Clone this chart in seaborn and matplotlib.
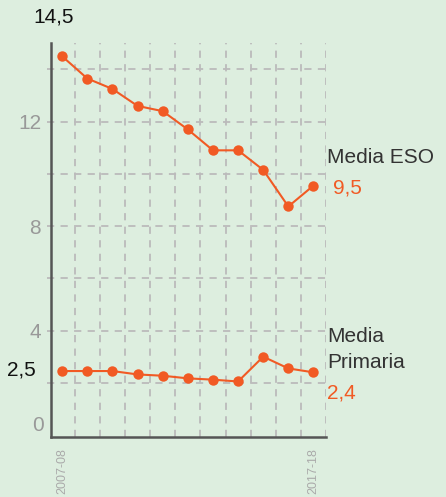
import matplotlib
matplotlib.use("Agg")
import matplotlib.pyplot as plt
import seaborn as sns
import pandas as pd
import numpy as np

cursos = ["2007-08", "2008-09", "2009-10", "2010-11", "2011-12", "2012-13",
          "2013-14", "2014-15", "2015-16", "2016-17", "2017-18"]
media_eso = [14.5, 13.65, 13.25, 12.6, 12.4, 11.7, 10.9, 10.9, 10.15, 8.75, 9.55]
media_primaria = [2.45, 2.45, 2.45, 2.32, 2.27, 2.17, 2.12, 2.05, 3.0, 2.55, 2.4]

BG = "#DDEEDF"
ORANGE = "#F15A24"
GRID = "#BBBBBB"

sns.set_style("white")
plt.rcParams["font.family"] = ["Liberation Sans", "DejaVu Sans"]

df = pd.DataFrame({
    "idx": list(range(len(cursos))) * 2,
    "valor": media_eso + media_primaria,
    "serie": ["ESO"] * len(cursos) + ["Primaria"] * len(cursos),
})

fig = plt.figure(figsize=(4.46, 4.97), dpi=100, facecolor=BG)
ax = fig.add_axes([0.114, 0.121, 0.617, 0.792])
ax.set_facecolor(BG)

sns.lineplot(data=df, x="idx", y="valor", units="serie", estimator=None,
             color=ORANGE, marker="o", markersize=7.5, markeredgewidth=0,
             linewidth=1.5, ax=ax, legend=False, zorder=5)

ax.set_xlim(-0.45, 10.5)
ax.set_ylim(-0.07, 15.0)

# grid
for x in np.arange(0.5, 10.6, 1.0):
    ax.axvline(x, color=GRID, lw=1.3, ls=(0, (4, 3.5)), zorder=1)
for y in np.arange(2, 15, 2):
    ax.plot([-0.62, 10.5], [y, y], color=GRID, lw=1.3, ls=(0, (4, 3.5)),
            zorder=1, clip_on=False)

for s in ["top", "right"]:
    ax.spines[s].set_visible(False)
for s in ["left", "bottom"]:
    ax.spines[s].set_color("#555555")
    ax.spines[s].set_linewidth(1.8)

FS = 15
ax.set_yticks([4, 8, 12])
ax.set_yticklabels(["4", "8", "12"], color="#999999", fontsize=FS)
ax.tick_params(axis="y", length=0, pad=7)
ax.text(-0.95, 0.35, "0", color="#999999", fontsize=FS, ha="center", va="center",
        clip_on=False)
ax.set_xticks([0, 10])
ax.set_xticklabels([cursos[0], cursos[-1]], rotation=90, color="#AAAAAA",
                   fontsize=9, va="top")
ax.tick_params(axis="x", length=0, pad=8)
ax.set_xlabel("")
ax.set_ylabel("")

# annotations
ax.text(-0.32, 16.0, "14,5", color="#111111", fontsize=FS, ha="center", va="center",
        clip_on=False)
ax.text(-1.63, 2.5, "2,5", color="#111111", fontsize=FS, ha="center", va="center",
        clip_on=False)

ax.text(10.55, 10.62, "Media ESO", color="#333333", fontsize=FS, ha="left", va="center",
        clip_on=False)
ax.text(10.78, 9.47, "9,5", color=ORANGE, fontsize=FS, ha="left", va="center",
        clip_on=False)
ax.text(10.55, 3.76, "Media", color="#333333", fontsize=FS, ha="left", va="center",
        clip_on=False)
ax.text(10.55, 2.77, "Primaria", color="#333333", fontsize=FS, ha="left", va="center",
        clip_on=False)
ax.text(10.55, 1.62, "2,4", color=ORANGE, fontsize=FS, ha="left", va="center",
        clip_on=False)

fig.savefig("out.png", dpi=100, facecolor=BG)
